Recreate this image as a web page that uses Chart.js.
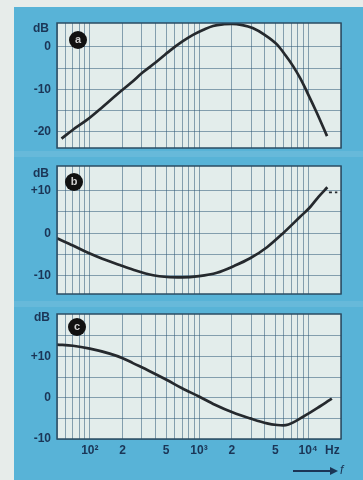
<!DOCTYPE html>
<html><head><meta charset="utf-8">
<script src="https://cdn.jsdelivr.net/npm/chart.js@4"></script>
<style>
html,body{margin:0;padding:0;background:#e7ecea;width:363px;height:480px;overflow:hidden;font-family:"Liberation Sans",Arial,sans-serif;}
#bg{position:absolute;left:14px;top:7px;right:0;bottom:0;background:#58b3d7;}
.sep{position:absolute;left:14px;right:0;height:6px;background:rgba(255,255,255,0.09);}
canvas{position:absolute;left:0;}
.lbl{position:absolute;color:#1b3556;font-weight:bold;font-size:12px;line-height:12px;white-space:nowrap;}
.badge{position:absolute;width:18px;height:18px;border-radius:50%;background:#111;color:#cfcfcf;font:bold 11px "Liberation Sans",Arial,sans-serif;text-align:center;line-height:17px;}
#arrow{position:absolute;left:293px;top:470px;width:38px;height:1.5px;background:#1b3556;}
#head{position:absolute;left:330px;top:467px;width:0;height:0;border-top:4px solid transparent;border-bottom:4px solid transparent;border-left:8px solid #1b3556;}
</style></head>
<body>
<div id="bg"></div>
<div class="sep" style="top:151px"></div>
<div class="sep" style="top:301px"></div>
<canvas id="ca" width="363" height="155" style="top:0;width:363px;height:155px"></canvas>
<canvas id="cb" width="363" height="150" style="top:155px;width:363px;height:150px"></canvas>
<canvas id="cc" width="363" height="175" style="top:305px;width:363px;height:175px"></canvas>
<div class="lbl" style="left:33px;top:22px">dB</div>
<div class="lbl" style="left:33px;top:167px">dB</div>
<div class="lbl" style="left:34px;top:311px">dB</div>
<div class="badge" style="left:69px;top:31px">a</div>
<div class="badge" style="left:65px;top:173px">b</div>
<div class="badge" style="left:68px;top:318px">c</div>
<div class="lbl" style="left:325px;top:444px">Hz</div>
<div id="arrow"></div><div id="head"></div>
<div class="lbl" style="left:340px;top:464px;font-style:italic;font-weight:normal">f</div>
<script>
// ---- data (frequency in Hz, level in dB) ----
const freqA = [55,70,94,130,177,240,306,400,542,700,881,1100,1344,1700,2000,2500,3100,4000,5200,6200,7300,8500,9800,12000,14900];
const dbA   = [-21.6,-19.5,-17.2,-14.2,-11.2,-8.4,-6.0,-3.7,-0.9,1.2,2.8,4.0,4.9,5.3,5.4,5.1,4.4,2.8,0.5,-2.0,-4.6,-7.5,-10.7,-15.5,-21.0];

const freqB = [50,70,94,130,188,250,380,509,700,1000,1460,2100,2940,4200,5900,8400,10400,12500,15000];
const dbB   = [-1.2,-2.9,-4.5,-6.0,-7.5,-8.6,-9.9,-10.3,-10.4,-10.1,-9.3,-7.7,-5.9,-3.3,0,3.8,6.1,8.6,10.8];
const freqBdash = [15500,18500];
const dbBdash   = [9.6,9.6];

const freqC = [50,70,100,152,200,248,350,509,700,1000,1400,2050,2940,4200,5200,5900,6600,7900,9000,10400,12300,14500,16500];
const dbC   = [12.9,12.6,11.9,10.7,9.6,8.4,6.5,4.3,2.3,0.3,-1.7,-3.6,-5.0,-6.2,-6.6,-6.7,-6.5,-5.5,-4.6,-3.6,-2.4,-1.2,-0.2];

const xGrid = [50,60,70,80,90,100,200,300,400,500,600,700,800,900,1000,2000,3000,4000,5000,6000,7000,8000,9000,10000,20000];
const xLabelValues = [100,200,500,1000,2000,5000,10000];
const xLabelTexts  = ['10\u00b2','2','5','10\u00b3','2','5','10\u2074'];

const yTicksA = [-20,-15,-10,-5,0];
const yTicksB = [-10,-5,0,5,10];
const yTicksC = [-10,-5,0,5,10,15];

// ---- drawing ----
const GRID = 'rgba(52,92,122,0.55)';
const TXT = '#1b3556';

const boxPlugin = {
  id:'box',
  beforeDraw(chart){
    const {ctx, chartArea:a} = chart;
    ctx.save();
    ctx.fillStyle = '#e3edeb';
    ctx.fillRect(a.left, a.top, a.right-a.left, a.bottom-a.top);
    ctx.restore();
  },
  afterDraw(chart){
    const {ctx, chartArea:a} = chart;
    ctx.save();
    ctx.strokeStyle = '#2b4c63';
    ctx.lineWidth = 1.5;
    ctx.strokeRect(a.left, a.top, a.right-a.left, a.bottom-a.top);
    ctx.restore();
  }
};

function pts(f, d){ return f.map((x,i)=>({x:x, y:d[i]})); }

function lineDs(f, d){
  return {data:pts(f,d), borderColor:'#25292d', borderWidth:2.7, pointRadius:0,
          cubicInterpolationMode:'monotone', fill:false};
}

function noPad(s){ s.paddingTop = 0; s.paddingBottom = 0; s.paddingLeft = 0; s.paddingRight = 0; }

function makeChart(id, datasets, yMin, yMax, yTicks, padTop, xAxisH, showX){
  new Chart(document.getElementById(id), {
    type:'line',
    data:{datasets:datasets},
    plugins:[boxPlugin],
    options:{
      responsive:false, animation:false,
      layout:{padding:{top:padTop, right:22, left:0, bottom:0}},
      plugins:{legend:{display:false}, tooltip:{enabled:false}},
      scales:{
        x:{
          type:'logarithmic', min:50, max:20000,
          afterBuildTicks:s=>{ s.ticks = xGrid.map(v=>({value:v})); },
          afterFit:s=>{ s.height = xAxisH; noPad(s); },
          grid:{color:GRID, lineWidth:1, drawTicks:false},
          border:{display:false},
          ticks:{display:showX, autoSkip:false, maxRotation:0, padding:4, color:TXT,
                 font:{family:'"Liberation Sans", Arial, sans-serif', size:12, weight:'bold'},
                 callback:v=>{ const i = xLabelValues.indexOf(v); return i>=0 ? xLabelTexts[i] : ''; }}
        },
        y:{
          type:'linear', min:yMin, max:yMax,
          afterBuildTicks:s=>{ s.ticks = yTicks.map(v=>({value:v})); },
          afterFit:s=>{ s.width = 57; noPad(s); },
          grid:{color:GRID, lineWidth:1, drawTicks:false},
          border:{display:false},
          ticks:{autoSkip:false, padding:6, color:TXT,
                 font:{family:'"Liberation Sans", Arial, sans-serif', size:12, weight:'bold'},
                 callback:v=>{ if (v%10!==0) return ''; return v>0 ? '+'+v : (v<0 ? '-'+Math.abs(v) : '0'); }}
        }
      }
    }
  });
}

const dashB = Object.assign(lineDs(freqBdash, dbBdash), {borderDash:[3,3], borderWidth:1.6});

makeChart('ca', [lineDs(freqA, dbA)], -23.8, 5.6, yTicksA, 23, 7, false);
makeChart('cb', [lineDs(freqB, dbB), dashB], -14.3, 15.8, yTicksB, 11, 11, false);
makeChart('cc', [lineDs(freqC, dbC)], -10, 20.3, yTicksC, 9, 41, true);
</script>
</body></html>
